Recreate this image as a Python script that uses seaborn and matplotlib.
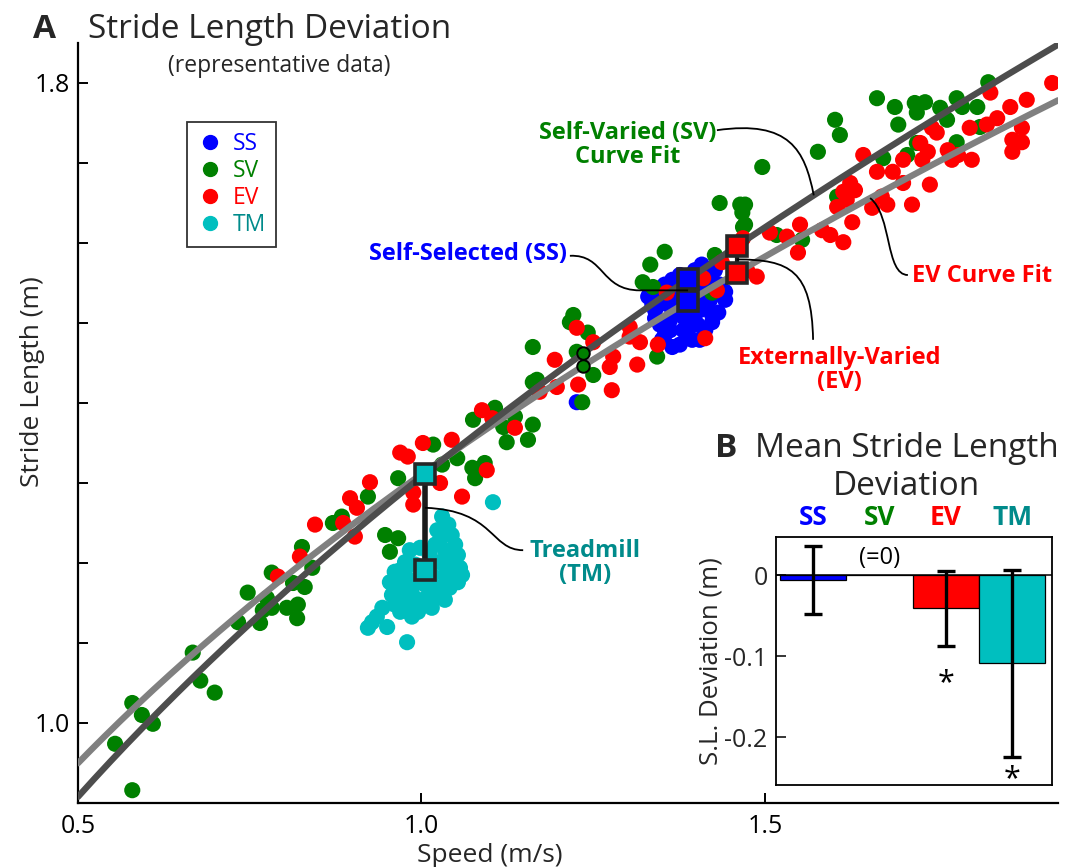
import numpy as np
import pandas as pd
import matplotlib
matplotlib.use("Agg")
import matplotlib.pyplot as plt
import seaborn as sns
from matplotlib.lines import Line2D
from matplotlib.path import Path
from matplotlib.patches import PathPatch

# ---------------- data ----------------
SS_SPEED = [1.330, 1.340, 1.347, 1.333, 1.354, 1.365, 1.376, 1.398, 1.408, 1.427,
            1.417, 1.434, 1.442, 1.432, 1.423, 1.413, 1.394, 1.376, 1.365, 1.354,
            1.347, 1.362, 1.373, 1.385, 1.398, 1.405, 1.391, 1.381, 1.402, 1.420,
            1.340, 1.359, 1.370, 1.410, 1.388, 1.350, 1.405, 1.442, 1.226,
            1.336, 1.350, 1.369, 1.383, 1.395, 1.416, 1.427, 1.405, 1.391, 1.362,
            1.388, 1.423]
SS_STRIDE = [1.533, 1.516, 1.529, 1.541, 1.548, 1.554, 1.560, 1.566, 1.573, 1.566,
             1.554, 1.548, 1.529, 1.513, 1.501, 1.491, 1.479, 1.473, 1.470, 1.485,
             1.498, 1.504, 1.514, 1.523, 1.531, 1.516, 1.501, 1.491, 1.498, 1.529,
             1.506, 1.523, 1.535, 1.541, 1.544, 1.479, 1.479, 1.539, 1.401,
             1.523, 1.539, 1.526, 1.506, 1.514, 1.523, 1.539, 1.551, 1.556, 1.491,
             1.485, 1.510]

SV_SPEED = [0.579, 0.554, 0.579, 0.593, 0.609, 0.667, 0.678, 0.699, 0.733, 0.747,
            0.765, 0.769, 0.782, 0.775, 0.782, 0.804, 0.820, 0.819, 0.813, 0.830,
            0.826, 0.841, 0.871, 0.922, 0.884, 0.947, 0.966, 0.954, 0.966, 1.017,
            1.030, 1.052, 1.074, 1.078, 1.092, 1.075, 1.107, 1.119, 1.136, 1.162,
            1.155, 1.124, 1.162, 1.434, 1.464, 1.467, 1.468, 1.354, 1.333, 1.322,
            1.337, 1.427, 1.221, 1.216, 1.242, 1.162, 1.226, 1.250, 1.234, 1.343,
            1.423, 1.168, 1.663, 1.689, 1.694, 1.718, 1.733, 1.721, 1.755, 1.765,
            1.779, 1.787, 1.809, 1.825, 1.602, 1.609, 1.577, 1.496, 1.672, 1.707,
            1.721, 1.779, 1.605, 1.471, 1.471, 1.554, 1.517, 1.813]
SV_STRIDE = [0.916, 0.974, 1.025, 1.010, 0.999, 1.088, 1.053, 1.038, 1.126, 1.163,
             1.125, 1.141, 1.144, 1.156, 1.188, 1.144, 1.148, 1.131, 1.175, 1.170,
             1.220, 1.194, 1.250, 1.283, 1.258, 1.235, 1.231, 1.214, 1.306, 1.348,
             1.323, 1.331, 1.319, 1.306, 1.325, 1.379, 1.394, 1.370, 1.383, 1.373,
             1.354, 1.351, 1.426, 1.650, 1.648, 1.638, 1.620, 1.589, 1.573, 1.551,
             1.545, 1.585, 1.510, 1.501, 1.488, 1.470, 1.464, 1.435, 1.401, 1.458,
             1.538, 1.429, 1.781, 1.770, 1.748, 1.775, 1.776, 1.763, 1.769, 1.754,
             1.781, 1.770, 1.770, 1.801, 1.754, 1.735, 1.714, 1.695, 1.706, 1.710,
             1.725, 1.726, 1.658, 1.648, 1.623, 1.604, 1.610, 1.745]

EV_SPEED = [0.845, 0.791, 0.823, 0.896, 0.906, 0.925, 0.886, 0.903, 0.969, 0.980,
            1.002, 0.988, 0.988, 1.027, 1.044, 1.059, 1.088, 1.103, 1.136, 1.095,
            1.172, 1.226, 1.194, 1.250, 1.279, 1.274, 1.303, 1.318, 1.314, 1.344,
            1.303, 1.228, 1.277, 1.197, 1.357, 1.413, 1.430, 1.410, 1.468, 1.437,
            1.918, 1.881, 1.857, 1.838, 1.828, 1.874, 1.860, 1.874, 1.860, 1.798,
            1.823, 1.750, 1.743, 1.726, 1.737, 1.729, 1.766, 1.781, 1.772, 1.801,
            1.643, 1.663, 1.686, 1.701, 1.701, 1.740, 1.714, 1.624, 1.614, 1.631,
            1.619, 1.605, 1.656, 1.670, 1.678, 1.627, 1.595, 1.583, 1.614, 1.551,
            1.532, 1.507, 1.548, 1.488, 1.474]
EV_STRIDE = [1.248, 1.183, 1.208, 1.281, 1.269, 1.301, 1.250, 1.233, 1.338, 1.333,
             1.350, 1.288, 1.273, 1.300, 1.354, 1.283, 1.391, 1.381, 1.369, 1.316,
             1.414, 1.494, 1.454, 1.476, 1.458, 1.445, 1.483, 1.476, 1.448, 1.473,
             1.495, 1.423, 1.416, 1.420, 1.538, 1.481, 1.541, 1.556, 1.606, 1.576,
             1.800, 1.779, 1.770, 1.756, 1.788, 1.744, 1.729, 1.726, 1.714, 1.744,
             1.748, 1.738, 1.744, 1.725, 1.714, 1.704, 1.716, 1.710, 1.704, 1.704,
             1.710, 1.689, 1.689, 1.704, 1.675, 1.673, 1.648, 1.675, 1.664, 1.666,
             1.654, 1.645, 1.644, 1.658, 1.648, 1.626, 1.610, 1.616, 1.601, 1.623,
             1.608, 1.613, 1.588, 1.558, 1.566]

TM_SPEED = [1.030, 1.039, 1.023, 1.044, 1.027, 1.049, 1.034, 0.983, 0.998, 1.012,
            1.053, 0.976, 0.991, 1.009, 1.027, 1.041, 1.056, 0.961, 0.976, 0.995,
            1.015, 1.034, 1.049, 0.954, 0.969, 0.986, 1.005, 1.024, 1.041, 1.053,
            0.957, 0.972, 0.991, 1.009, 1.027, 0.961, 0.980, 0.998, 1.015, 0.995,
            0.983, 0.943, 0.935, 0.922, 0.950, 0.928, 0.986, 0.979, 0.969, 1.104,
            1.039, 1.020, 0.969, 1.005, 1.034, 0.961, 1.059]
TM_STRIDE = [1.258, 1.248, 1.241, 1.235, 1.229, 1.223, 1.216, 1.216, 1.219, 1.210,
             1.210, 1.201, 1.198, 1.198, 1.201, 1.198, 1.194, 1.189, 1.185, 1.181,
             1.185, 1.185, 1.181, 1.176, 1.173, 1.169, 1.173, 1.169, 1.169, 1.176,
             1.160, 1.156, 1.156, 1.158, 1.158, 1.148, 1.145, 1.146, 1.144, 1.139,
             1.154, 1.144, 1.133, 1.119, 1.120, 1.126, 1.133, 1.101, 1.139, 1.276,
             1.204, 1.223, 1.191, 1.154, 1.154, 1.166, 1.185]

# power-law curve fits  L = a * v**b
FIT_SV = (1.308, 0.527)
FIT_EV = (1.311, 0.465)
MEAN_SPEED_SS = 1.388
MEAN_SPEED_EV = 1.459
MEAN_SPEED_TM = 1.005
MEAN_STRIDE_TM = 1.191
MARK_SPEED_SV = 1.235

LEGEND_LABELS = ["SS", "SV", "EV", "TM"]
BAR_CATS = ["SS", "SV", "EV", "TM"]
BAR_MEAN = [-0.006, 0.0, -0.041, -0.109]
BAR_ERR = [0.042, 0.0, 0.046, 0.115]
STAR_Y = [None, None, -0.133, -0.252]

X_TICKS = [0.5, 1.0, 1.5]
Y_TICKS = [1.0, 1.1, 1.2, 1.3, 1.4, 1.5, 1.6, 1.7, 1.8]
Y_TICK_LABELS = ["1.0", "", "", "", "", "", "", "", "1.8"]

# ---------------- styling ----------------
BLUE = "#0000FF"
GREEN = "#008000"
RED = "#FF0000"
CYAN = "#00BFBF"
TEAL = "#008B8B"
DARK = "#4D4D4D"
LIGHT = "#808080"
EDGE = "#262626"
PALETTE = {"TM": CYAN, "SS": BLUE, "SV": GREEN, "EV": RED}
TEXT_COL = {"SS": BLUE, "SV": GREEN, "EV": RED, "TM": TEAL}

sns.set_style("ticks")
plt.rcParams["font.family"] = ["Open Sans", "DejaVu Sans"]
plt.rcParams["axes.unicode_minus"] = False

W, H = 1070, 867
fig = plt.figure(figsize=(W / 100, H / 100), dpi=100)
fig.patch.set_facecolor("white")

def fx(px):
    return px / W

def fy(py):
    return 1 - py / H

ax = fig.add_axes([fx(78), fy(803), fx(1058) - fx(78), fy(43) - fy(803)])
ax.set_facecolor("white")

df = pd.concat([
    pd.DataFrame({"speed": TM_SPEED, "stride": TM_STRIDE, "cond": "TM"}),
    pd.DataFrame({"speed": SS_SPEED, "stride": SS_STRIDE, "cond": "SS"}),
    pd.DataFrame({"speed": SV_SPEED, "stride": SV_STRIDE, "cond": "SV"}),
    pd.DataFrame({"speed": EV_SPEED, "stride": EV_STRIDE, "cond": "EV"}),
], ignore_index=True)

sns.scatterplot(data=df, x="speed", y="stride", hue="cond", palette=PALETTE,
                s=135, linewidth=0, legend=False, ax=ax, zorder=2)

XMIN, XMAX = 0.5, 1.9265
v = np.linspace(XMIN, XMAX, 300)

def fit(p, s):
    return p[0] * np.asarray(s) ** p[1]

sns.lineplot(x=v, y=fit(FIT_EV, v), color=LIGHT, lw=4.6, ax=ax, zorder=3)
sns.lineplot(x=v, y=fit(FIT_SV, v), color=DARK, lw=4.6, ax=ax, zorder=3)

# TM mean deviation line + squares
ax.plot([MEAN_SPEED_TM, MEAN_SPEED_TM], [fit(FIT_SV, MEAN_SPEED_TM), MEAN_STRIDE_TM],
        color="#1a1a1a", lw=4, zorder=4, solid_capstyle="butt")
ax.plot([MEAN_SPEED_TM, MEAN_SPEED_TM], [fit(FIT_SV, MEAN_SPEED_TM), MEAN_STRIDE_TM],
        ls="none", marker="s", ms=14, mfc=CYAN, mec=EDGE, mew=2.6, zorder=5)

for sp, col in [(MEAN_SPEED_SS, BLUE), (MEAN_SPEED_EV, RED)]:
    ys = [fit(FIT_SV, sp), fit(FIT_EV, sp)]
    ax.plot([sp, sp], ys, color="#1a1a1a", lw=3, zorder=4)
    ax.plot([sp, sp], ys, ls="none", marker="s", ms=15, mfc=col, mec=EDGE,
            mew=2.6, zorder=5)

ax.plot([MARK_SPEED_SV, MARK_SPEED_SV],
        [fit(FIT_SV, MARK_SPEED_SV), fit(FIT_EV, MARK_SPEED_SV)],
        ls="none", marker="o", ms=9, mfc=GREEN, mec="black", mew=1.4, zorder=5)

# axes formatting
ax.set_xlim(XMIN, XMAX)
ax.set_ylim(0.9, 1.85)
ax.spines["top"].set_visible(False)
ax.spines["right"].set_visible(False)
for sp_ in ["left", "bottom"]:
    ax.spines[sp_].set_linewidth(1.6)
    ax.spines[sp_].set_color("black")
ax.set_xticks(X_TICKS)
ax.set_xticklabels([f"{t:.1f}" for t in X_TICKS])
ax.set_yticks(Y_TICKS)
ax.set_yticklabels(Y_TICK_LABELS)
ax.tick_params(direction="in", length=7, width=1.4, labelsize=18, colors="black")
ax.tick_params(axis="x", pad=8)
ax.tick_params(axis="y", pad=6)
ax.set_xlabel("Speed (m/s)", fontsize=19, labelpad=0)
ax.xaxis.set_label_coords((490 - 78) / 980, -0.052)
ax.set_ylabel("Stride Length (m)", fontsize=19)
ax.yaxis.set_label_coords(-(78 - 45) / 980, (803 - 382) / 760)

# legend
handles = [Line2D([0], [0], ls="none", marker="o", ms=10, mfc=PALETTE[k], mec=PALETTE[k])
           for k in LEGEND_LABELS]
leg = ax.legend(handles, LEGEND_LABELS, loc="upper left",
                bbox_to_anchor=(fx(187), fy(122)), bbox_transform=fig.transFigure,
                frameon=True, fancybox=False, edgecolor="black", fontsize=16.5,
                handletextpad=0.45, handlelength=1.1, labelspacing=0.12,
                borderpad=0.45, borderaxespad=0)
leg.get_frame().set_linewidth(1.3)
for t, k in zip(leg.get_texts(), LEGEND_LABELS):
    t.set_color(TEXT_COL[k])

# annotations: leader curves
def leader(pts):
    codes = [Path.MOVETO] + [Path.CURVE4] * 3 + [Path.LINETO] * (len(pts) - 4)
    patch = PathPatch(Path(pts, codes), fc="none", ec="black", lw=1.3, zorder=6)
    ax.add_patch(patch)

mid_ss = (fit(FIT_SV, MEAN_SPEED_SS) + fit(FIT_EV, MEAN_SPEED_SS)) / 2
mid_ev = (fit(FIT_SV, MEAN_SPEED_EV) + fit(FIT_EV, MEAN_SPEED_EV)) / 2
leader([(1.216, 1.584), (1.267, 1.586), (1.260, mid_ss), (1.318, mid_ss),
        (MEAN_SPEED_SS, mid_ss)])
leader([(1.430, 1.741), (1.536, 1.754), (1.558, 1.716), (1.571, fit(FIT_SV, 1.571))])
leader([(1.708, 1.560), (1.675, 1.560), (1.685, 1.635), (1.653, fit(FIT_EV, 1.653))])
leader([(1.570, 1.479), (1.568, 1.566), (1.536, mid_ev), (MEAN_SPEED_EV, mid_ev)])
leader([(1.148, 1.216), (1.100, 1.216), (1.107, 1.266), (MEAN_SPEED_TM, 1.269)])

afs = 17
ax.text(1.212, 1.586, "Self-Selected (SS)", color=BLUE, fontsize=afs,
        fontweight="bold", ha="right", va="center", zorder=7)
ax.text(1.3006, 1.7225, "Self-Varied (SV)\nCurve Fit", color=GREEN, fontsize=afs,
        fontweight="bold", ha="center", va="center", multialignment="center",
        linespacing=1.0, zorder=7)
ax.text(1.714, 1.559, "EV Curve Fit", color=RED, fontsize=afs, fontweight="bold",
        ha="left", va="center", zorder=7)
ax.text(1.609, 1.441, "Externally-Varied\n(EV)", color=RED, fontsize=afs,
        fontweight="bold", ha="center", va="center", multialignment="center",
        linespacing=1.0, zorder=7)
ax.text(1.238, 1.200, "Treadmill\n(TM)", color=TEAL, fontsize=afs,
        fontweight="bold", ha="center", va="center", multialignment="center",
        linespacing=1.0, zorder=7)

# panel A titles
fig.text(fx(33), fy(38), "A", fontsize=24, fontweight="bold", va="baseline", ha="left")
fig.text(fx(88), fy(38), "Stride Length Deviation", fontsize=24, va="baseline", ha="left")
fig.text(fx(279), fy(66), "(representative data)", fontsize=16.5, va="center", ha="center")

# ---------------- inset B ----------------
axb = fig.add_axes([fx(776), fy(785), fx(1052) - fx(776), fy(537) - fy(785)])
axb.set_facecolor("white")
sns.barplot(x=BAR_CATS, y=BAR_MEAN, hue=BAR_CATS,
            palette={"SS": BLUE, "SV": GREEN, "EV": RED, "TM": CYAN},
            width=1.0, saturation=1, edgecolor="black", linewidth=0.9, errorbar=None,
            legend=False, ax=axb, zorder=2)
idx = [i for i, e in enumerate(BAR_ERR) if e > 0]
axb.errorbar(idx, [BAR_MEAN[i] for i in idx], yerr=[BAR_ERR[i] for i in idx],
             fmt="none", ecolor="black", elinewidth=2.4, capsize=6.5, capthick=2.4,
             zorder=4)
axb.axhline(0, color="black", lw=1.1, zorder=3)
for i, sy in enumerate(STAR_Y):
    if sy is not None:
        axb.text(i, sy, "*", fontsize=22, ha="center", va="center", color="black")
axb.text(1, 0.021, "(=0)", fontsize=17, ha="center", va="center", color="black")
axb.set_xlim(-0.56, 3.6)
axb.set_ylim(-0.259, 0.047)
axb.set_yticks([0, -0.1, -0.2])
axb.set_yticklabels(["0", "-0.1", "-0.2"])
axb.xaxis.tick_top()
axb.set_xticks(range(len(BAR_CATS)))
axb.set_xticklabels(BAR_CATS, fontsize=19, fontweight="bold")
for t, k in zip(axb.get_xticklabels(), BAR_CATS):
    t.set_color(TEXT_COL[k])
axb.tick_params(axis="x", length=0, pad=4)
axb.tick_params(axis="y", direction="in", length=7, width=1.3, labelsize=18, pad=6)
for s in axb.spines.values():
    s.set_visible(True)
    s.set_linewidth(1.3)
    s.set_color("black")
axb.set_xlabel("")
axb.set_ylabel("S.L. Deviation (m)", fontsize=18.5)
axb.yaxis.set_label_coords(-(776 - 723) / 276, 0.5)

fig.text(fx(715), fy(457), "B", fontsize=24, fontweight="bold", va="baseline", ha="left")
fig.text(fx(755), fy(457), "Mean Stride Length", fontsize=24, va="baseline", ha="left")
fig.text(fx(906), fy(495), "Deviation", fontsize=24, va="baseline", ha="center")

fig.savefig("out.png", dpi=100, facecolor="white")
